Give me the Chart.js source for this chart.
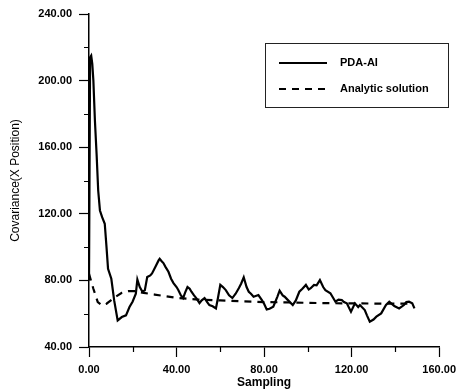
<!DOCTYPE html>
<html>
<head>
<meta charset="utf-8">
<script src="https://cdn.jsdelivr.net/npm/chart.js@4.4.1/dist/chart.umd.min.js"></script>
<style>
  html, body { margin: 0; padding: 0; background: #fff; }
  #wrap { width: 462px; height: 392px; }
</style>
</head>
<body>
<div id="wrap"><canvas id="covChart" width="462" height="392"></canvas></div>
<script>
// values
const pdaSampling = [0, 0.5, 1, 1.5, 2, 2.7, 3.5, 4.2, 5, 6, 7.2, 8, 8.7, 10.2, 11.5, 13.1, 15, 16.9, 18.5, 19.9,
    21.4, 22.1, 23.2, 24.4, 25.5, 26.6, 28, 28.8, 30.3, 31.8, 32.3, 33.2, 34, 35, 36.3, 37.5, 38.6, 40, 40.8, 42,
    43, 44, 45, 46, 46.8, 48, 49, 50.5, 51.5, 52.8, 54, 55, 56.5, 58, 59, 60, 61.2, 62.5, 64, 65.5,
    67, 68.5, 69.5, 70.7, 72, 73, 74, 75.2, 77.4, 79, 80, 81.2, 82.5, 84.2, 86, 87.1, 88.5, 89.4, 91, 93.1,
    94.5, 96.1, 97.5, 99.1, 100.4, 101.3, 102.8, 104, 105.5, 107, 108, 110.3, 112.6, 114, 115.5, 116.5, 117.8, 119.7, 121.5, 123,
    123.8, 126, 127, 128.3, 130, 131.3, 133.5, 135.7, 137.2, 139.5, 141.7, 143.9, 145, 146.2, 147.7, 148.7];
const pdaValues = [80, 214, 215, 210, 200, 176, 155, 134, 122, 118, 114, 100, 87, 81, 68, 56, 58, 59, 64, 67.2,
    72, 80.5, 76, 73.2, 74, 82, 83, 84.2, 88, 92, 93, 91.5, 90.4, 88, 85.2, 81, 78.4, 76, 74.2, 71,
    69.4, 73, 76, 75, 73.2, 71, 69.4, 66.4, 68, 69.4, 67, 65.2, 64.5, 63.2, 70, 77.3, 76, 74.2, 71, 69.4,
    72, 75.4, 78, 81.9, 76, 73.2, 72, 70.2, 71.2, 68.2, 66, 62.6, 63, 64.2, 70, 73.8, 71, 70.2, 68, 65.2,
    68, 73.2, 75, 77.3, 74.5, 75.3, 77.3, 77, 80.2, 76, 74.2, 72.3, 67.2, 68.5, 68.2, 67, 66.2, 61.2, 66.2, 64,
    65.2, 62.2, 59, 55.2, 56.5, 58.2, 60.2, 65.2, 67.2, 64.6, 63.2, 65.2, 67, 67.2, 66.2, 63.2];

const analyticSampling = [0, 2, 4, 6, 8, 10, 12, 15, 18, 21, 25, 30, 40, 50, 60, 70, 80, 90, 100, 110, 120, 130, 140, 148];
const analyticValues = [84, 75, 67, 65, 66, 68, 70, 72.5, 73.5, 73.5, 72.5, 71.5, 69.5, 68.5, 68, 67.5, 67, 66.8, 66.5, 66.3, 66.2, 66.1, 66, 66];

const xTicks = [0, 40, 80, 120, 160];
const yTicks = [40, 80, 120, 160, 200, 240];
const xMinor = [20, 60, 100, 140];
const yMinor = [60, 100, 140, 180, 220];

const seriesLabels = ['PDA-AI', 'Analytic solution'];

function toPoints(xs, ys) {
    return xs.map((x, i) => ({ x: x, y: ys[i] }));
}

const FONT = 'Liberation Sans, Arial, sans-serif';

// short ticks between the labelled ones
const minorTicks = {
    id: 'minorTicks',
    afterDraw(chart) {
        const ctx = chart.ctx;
        const xs = chart.scales.x;
        const ys = chart.scales.y;
        const area = chart.chartArea;
        ctx.save();
        ctx.strokeStyle = '#000';
        ctx.lineWidth = 1.2;
        ctx.beginPath();
        xMinor.forEach(v => {
            const px = Math.round(xs.getPixelForValue(v)) + 0.5;
            ctx.moveTo(px, area.bottom);
            ctx.lineTo(px, area.bottom + 5);
        });
        yMinor.forEach(v => {
            const py = Math.round(ys.getPixelForValue(v)) + 0.5;
            ctx.moveTo(area.left, py);
            ctx.lineTo(area.left - 5, py);
        });
        ctx.stroke();
        ctx.restore();
    }
};

// boxed legend in the upper right
const boxLegend = {
    id: 'boxLegend',
    afterDraw(chart) {
        const ctx = chart.ctx;
        const sets = chart.data.datasets;
        const left = 265, top = 43, w = 183, h = 64;
        ctx.save();
        ctx.fillStyle = '#fff';
        ctx.fillRect(left, top, w, h);
        ctx.strokeStyle = '#222';
        ctx.lineWidth = 1;
        ctx.strokeRect(left + 0.5, top + 0.5, w, h);

        const rows = [63, 89];
        sets.forEach((ds, i) => {
            const y = rows[i];
            ctx.strokeStyle = ds.borderColor;
            ctx.lineWidth = ds.borderWidth;
            ctx.setLineDash(ds.borderDash || []);
            ctx.beginPath();
            ctx.moveTo(279, y);
            ctx.lineTo(327, y);
            ctx.stroke();
            ctx.setLineDash([]);
            ctx.fillStyle = '#000';
            ctx.font = 'bold 11px ' + FONT;
            ctx.textBaseline = 'middle';
            ctx.textAlign = 'left';
            ctx.fillText(ds.label, 340, y);
        });
        ctx.restore();
    }
};

const ctx = document.getElementById('covChart').getContext('2d');
const chart = new Chart(ctx, {
    type: 'line',
    data: {
        datasets: [
            {
                label: seriesLabels[0],
                data: toPoints(pdaSampling, pdaValues),
                borderColor: '#000',
                borderWidth: 2.2,
                pointRadius: 0,
                tension: 0,
                fill: false
            },
            {
                label: seriesLabels[1],
                data: toPoints(analyticSampling, analyticValues),
                borderColor: '#000',
                borderWidth: 2.2,
                borderDash: [7, 6],
                pointRadius: 0,
                tension: 0,
                fill: false
            }
        ]
    },
    options: {
        responsive: false,
        animation: false,
        layout: {
            padding: { top: 14, right: 17, left: 0, bottom: 0 }
        },
        plugins: {
            legend: { display: false },
            tooltip: { enabled: false }
        },
        scales: {
            x: {
                type: 'linear',
                min: xTicks[0],
                max: xTicks[xTicks.length - 1],
                afterBuildTicks: (scale) => {
                    scale.ticks = xTicks.map(v => ({ value: v }));
                },
                afterFit: (scale) => { scale.height = 45; },
                border: { color: '#000', width: 1.5 },
                grid: { drawOnChartArea: false, tickLength: 10, tickColor: '#000', tickWidth: 1.2 },
                ticks: {
                    color: '#000',
                    padding: 6,
                    maxRotation: 0,
                    font: { family: FONT, size: 11, weight: 'bold' },
                    callback: (v) => Number(v).toFixed(2)
                },
                title: {
                    display: true,
                    text: 'Sampling',
                    color: '#000',
                    padding: { top: 0, bottom: 2 },
                    font: { family: FONT, size: 12, weight: 'bold' }
                }
            },
            y: {
                type: 'linear',
                min: yTicks[0],
                max: yTicks[yTicks.length - 1],
                afterBuildTicks: (scale) => {
                    scale.ticks = yTicks.map(v => ({ value: v }));
                },
                afterFit: (scale) => { scale.width = 89; },
                border: { color: '#000', width: 1.5 },
                grid: { drawOnChartArea: false, tickLength: 10, tickColor: '#000', tickWidth: 1.2 },
                ticks: {
                    color: '#000',
                    padding: 7,
                    font: { family: FONT, size: 11, weight: 'bold' },
                    callback: (v) => Number(v).toFixed(2)
                },
                title: {
                    display: true,
                    text: 'Covariance(X Position)',
                    color: '#000',
                    padding: { top: 8, bottom: 0 },
                    font: { family: FONT, size: 12 }
                }
            }
        }
    },
    plugins: [minorTicks, boxLegend]
});
</script>
</body>
</html>
